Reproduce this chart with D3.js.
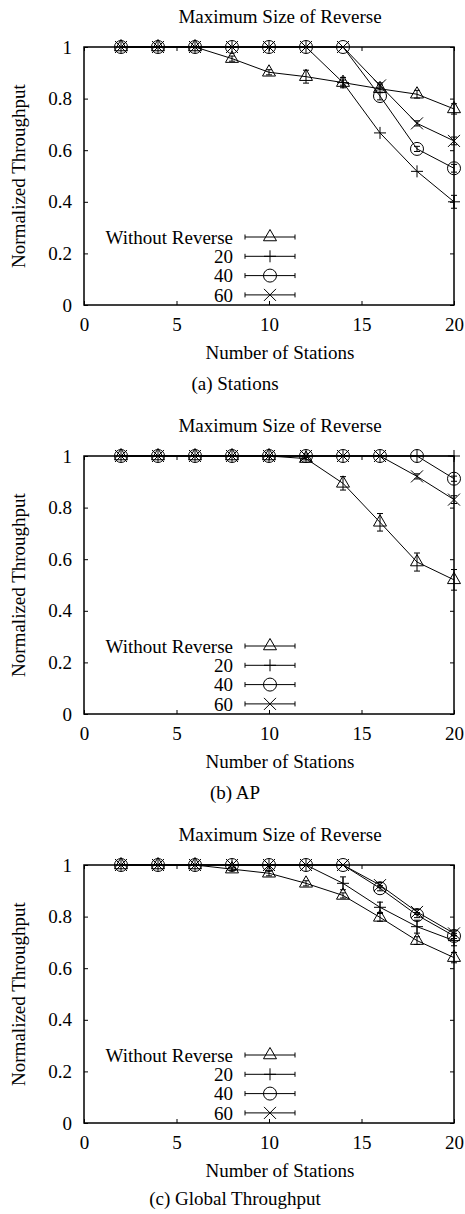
<!DOCTYPE html>
<html>
<head>
<meta charset="utf-8">
<script src="https://cdn.jsdelivr.net/npm/d3@7"></script>
<style>
    body { margin: 0; background: #fff; }
    svg { display: block; font-family: "Liberation Serif", "DejaVu Serif", serif; }
    .frame { fill: none; stroke: #000; stroke-width: 1.5; }
    .series { fill: none; stroke: #000; stroke-width: 1; }
    .errbar { stroke: #000; stroke-width: 1; }
    .marker { fill: none; stroke: #000; stroke-width: 1; }
    .axis text { font-size: 19px; font-family: "Liberation Serif", serif; fill: #000; }
    .axis line { stroke: #000; }
    .label { font-size: 19px; fill: #000; }
</style>
</head>
<body>
<svg id="chart" width="465" height="1214"></svg>
<script>
// Number of stations (x values)
const stations = [2, 4, 6, 8, 10, 12, 14, 16, 18, 20];
const seriesNames = ["Without Reverse", "20", "40", "60"];
const xTicks = [0, 5, 10, 15, 20];
const yTicks = [0, 0.2, 0.4, 0.6, 0.8, 1];
const captions = ["(a) Stations", "(b) AP", "(c) Global Throughput"];

// (a) Stations
const stationsWithoutRev = [1, 1, 1, 0.955, 0.902, 0.885, 0.862, 0.838, 0.817, 0.760];
const stations20 = [1, 1, 1, 1, 1, 1, 0.862, 0.667, 0.518, 0.400];
const stations40 = [1, 1, 1, 1, 1, 1, 1, 0.810, 0.605, 0.530];
const stations60 = [1, 1, 1, 1, 1, 1, 1, 0.851, 0.704, 0.636];
const stationsErrWithoutRev = [0, 0, 0, 0.01, 0.01, 0.025, 0.02, 0.015, 0.015, 0.02];
const stationsErr20 = [0, 0, 0, 0, 0, 0, 0.01, 0, 0, 0.025];
const stationsErr40 = [0, 0, 0, 0, 0, 0, 0, 0.015, 0.01, 0.015];
const stationsErr60 = [0, 0, 0, 0, 0, 0, 0, 0.01, 0.01, 0.015];

// (b) AP
const apWithoutRev = [1, 1, 1, 1, 1, 0.99, 0.894, 0.743, 0.589, 0.520];
const ap20 = [1, 1, 1, 1, 1, 1, 1, 1, 1, 1];
const ap40 = [1, 1, 1, 1, 1, 1, 1, 1, 1, 0.912];
const ap60 = [1, 1, 1, 1, 1, 1, 1, 1, 0.921, 0.831];
const apErrWithoutRev = [0, 0, 0, 0, 0, 0.005, 0.026, 0.034, 0.035, 0.04];
const apErr20 = [0, 0, 0, 0, 0, 0, 0, 0, 0, 0];
const apErr40 = [0, 0, 0, 0, 0, 0, 0, 0, 0, 0.01];
const apErr60 = [0, 0, 0, 0, 0, 0, 0, 0, 0.01, 0.015];

// (c) Global Throughput
const globalWithoutRev = [1, 1, 1, 0.984, 0.968, 0.929, 0.882, 0.797, 0.707, 0.641];
const global20 = [1, 1, 1, 1, 1, 1, 0.929, 0.836, 0.761, 0.707];
const global40 = [1, 1, 1, 1, 1, 1, 1, 0.910, 0.806, 0.725];
const global60 = [1, 1, 1, 1, 1, 1, 1, 0.922, 0.818, 0.735];
const globalErrWithoutRev = [0, 0, 0, 0.005, 0.01, 0.01, 0.01, 0.015, 0.015, 0.02];
const globalErr20 = [0, 0, 0, 0, 0, 0, 0.025, 0.02, 0.025, 0.02];
const globalErr40 = [0, 0, 0, 0, 0, 0, 0, 0.01, 0.01, 0.01];
const globalErr60 = [0, 0, 0, 0, 0, 0, 0, 0.01, 0.01, 0.01];

const panels = [
    { values: [stationsWithoutRev, stations20, stations40, stations60],
      errors: [stationsErrWithoutRev, stationsErr20, stationsErr40, stationsErr60] },
    { values: [apWithoutRev, ap20, ap40, ap60],
      errors: [apErrWithoutRev, apErr20, apErr40, apErr60] },
    { values: [globalWithoutRev, global20, global40, global60],
      errors: [globalErrWithoutRev, globalErr20, globalErr40, globalErr60] }
];

// layout (pixels)
const left = 84, right = 454, plotH = 258;
const panelBottoms = [305, 714, 1123];
const captionYs = [390, 799, 1205];

const symbols = [
    d3.symbol().type(d3.symbolTriangle2).size(121),
    d3.symbol().type(d3.symbolPlus).size(49),
    d3.symbol().type(d3.symbolCircle).size(133),
    d3.symbol().type(d3.symbolTimes).size(96)
];

const svg = d3.select("#chart");
const x = d3.scaleLinear().domain([0, 20]).range([left, right]);

function drawPanel(panel, i) {
    const bottom = panelBottoms[i];
    const y = d3.scaleLinear().domain([0, 1]).range([bottom, bottom - plotH]);
    const g = svg.append("g").attr("class", "panel");

    // axes with inward ticks, mirrored on top and right
    g.append("g").attr("class", "axis")
        .attr("transform", `translate(${left},0)`)
        .call(d3.axisLeft(y).tickValues(yTicks).tickFormat(d => String(d))
            .tickSizeInner(-4).tickSizeOuter(0).tickPadding(12));
    g.append("g").attr("class", "axis")
        .attr("transform", `translate(${right},0)`)
        .call(d3.axisRight(y).tickValues(yTicks).tickFormat("")
            .tickSizeInner(-4).tickSizeOuter(0));
    g.append("g").attr("class", "axis")
        .attr("transform", `translate(0,${bottom})`)
        .call(d3.axisBottom(x).tickValues(xTicks).tickFormat(d => String(d))
            .tickSizeInner(-4).tickSizeOuter(0).tickPadding(13));
    g.append("g").attr("class", "axis")
        .attr("transform", `translate(0,${bottom - plotH})`)
        .call(d3.axisTop(x).tickValues(xTicks).tickFormat("")
            .tickSizeInner(-4).tickSizeOuter(0));
    g.selectAll(".axis .domain").remove();

    g.append("rect").attr("class", "frame")
        .attr("x", left).attr("y", bottom - plotH)
        .attr("width", right - left).attr("height", plotH);

    // series lines
    const line = d3.line().x((d, k) => x(stations[k])).y(d => y(d));
    g.selectAll(".series")
        .data(panel.values)
        .enter().append("path")
        .attr("class", "series")
        .attr("d", d => line(d));

    // error bars
    panel.values.forEach((vals, s) => {
        const pts = vals.map((v, k) => ({ x: stations[k], v: v, e: panel.errors[s][k] }))
            .filter(p => p.e > 0);
        const eb = g.append("g");
        eb.selectAll(".errbar-v").data(pts).enter().append("line")
            .attr("class", "errbar")
            .attr("x1", p => x(p.x)).attr("x2", p => x(p.x))
            .attr("y1", p => y(p.v - p.e)).attr("y2", p => y(p.v + p.e));
        [-1, 1].forEach(sign => {
            eb.selectAll(null).data(pts).enter().append("line")
                .attr("class", "errbar")
                .attr("x1", p => x(p.x) - 3).attr("x2", p => x(p.x) + 3)
                .attr("y1", p => y(p.v + sign * p.e)).attr("y2", p => y(p.v + sign * p.e));
        });
    });

    // markers
    panel.values.forEach((vals, s) => {
        g.selectAll(null)
            .data(vals)
            .enter().append("path")
            .attr("class", "marker")
            .attr("transform", (d, k) => `translate(${x(stations[k])},${y(d)})`)
            .attr("d", symbols[s]());
    });

    // legend
    const legend = g.append("g").attr("class", "legend");
    seriesNames.forEach((name, s) => {
        const ly = bottom - 68 + s * 19.3;
        legend.append("text").attr("class", "label")
            .attr("x", 233).attr("y", ly).attr("dy", "0.35em")
            .attr("text-anchor", "end")
            .text(name);
        legend.append("line").attr("class", "errbar")
            .attr("x1", 245).attr("x2", 295).attr("y1", ly).attr("y2", ly);
        legend.append("line").attr("class", "errbar")
            .attr("x1", 245).attr("x2", 245).attr("y1", ly - 2.5).attr("y2", ly + 2.5);
        legend.append("line").attr("class", "errbar")
            .attr("x1", 295).attr("x2", 295).attr("y1", ly - 2.5).attr("y2", ly + 2.5);
        legend.append("path").attr("class", "marker")
            .attr("transform", `translate(270,${ly})`)
            .attr("d", symbols[s]());
    });

    // texts
    g.append("text").attr("class", "label")
        .attr("x", 280).attr("y", bottom - 282)
        .attr("text-anchor", "middle")
        .text("Maximum Size of Reverse");
    g.append("text").attr("class", "label")
        .attr("transform", `translate(25,${bottom - plotH / 2}) rotate(-90)`)
        .attr("text-anchor", "middle")
        .text("Normalized Throughput");
    g.append("text").attr("class", "label")
        .attr("x", 280).attr("y", bottom + 54)
        .attr("text-anchor", "middle")
        .text("Number of Stations");
    g.append("text").attr("class", "label")
        .attr("x", 235).attr("y", captionYs[i])
        .attr("text-anchor", "middle")
        .text(captions[i]);
}

panels.forEach(drawPanel);
</script>
</body>
</html>
